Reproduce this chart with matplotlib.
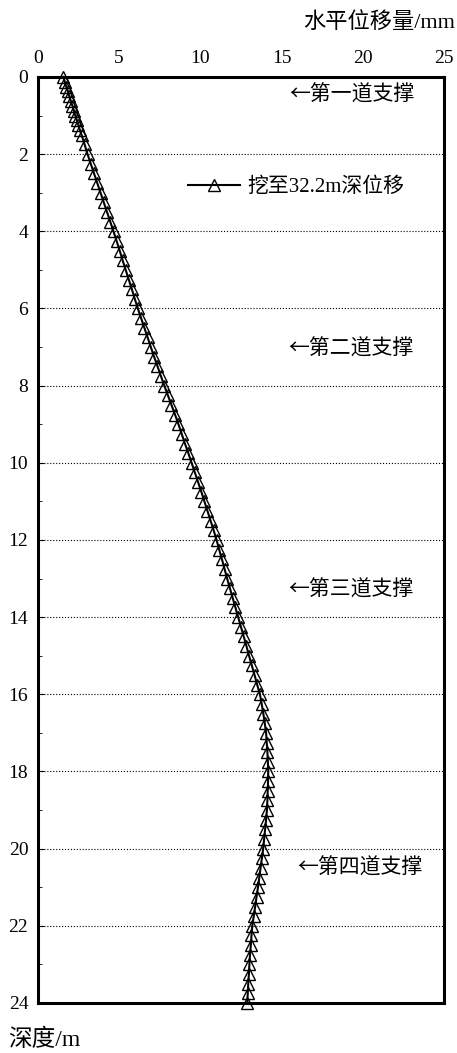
import matplotlib
matplotlib.use('Agg')
import matplotlib.pyplot as plt
from matplotlib.ticker import MultipleLocator

plt.rcParams['font.family'] = ['Liberation Serif', 'Noto Sans CJK SC', 'DejaVu Sans']

# ── Data ──────────────────────────────────────────────────────────────────────
depth = [0.0, 0.125, 0.25, 0.375, 0.5, 0.625, 0.75, 0.875, 1.0, 1.125, 1.25, 1.375, 1.5,
         1.75, 2.0, 2.25, 2.5, 2.75, 3.0, 3.25, 3.5, 3.75, 4.0, 4.25, 4.5, 4.75,
         5.0, 5.25, 5.5, 5.75, 6.0, 6.25, 6.5, 6.75, 7.0, 7.25, 7.5, 7.75,
         8.0, 8.25, 8.5, 8.75, 9.0, 9.25, 9.5, 9.75, 10.0, 10.25, 10.5, 10.75,
         11.0, 11.25, 11.5, 11.75, 12.0, 12.25, 12.5, 12.75, 13.0, 13.25, 13.5, 13.75,
         14.0, 14.25, 14.5, 14.75, 15.0, 15.25, 15.5, 15.75, 16.0, 16.25, 16.5, 16.75,
         17.0, 17.25, 17.5, 17.75, 18.0, 18.25, 18.5, 18.75, 19.0, 19.25, 19.5, 19.75,
         20.0, 20.25, 20.5, 20.75, 21.0, 21.25, 21.5, 21.75, 22.0, 22.25, 22.5, 22.75,
         23.0, 23.25, 23.5, 23.75, 24.0]
disp = [1.56, 1.65, 1.74, 1.84, 1.93, 2.02, 2.12, 2.21, 2.30, 2.39, 2.49, 2.58, 2.68,
        2.87, 3.05, 3.25, 3.45, 3.65, 3.85, 4.05, 4.25, 4.45, 4.65, 4.84, 5.03, 5.21,
        5.40, 5.59, 5.78, 5.96, 6.15, 6.35, 6.55, 6.75, 6.95, 7.15, 7.36, 7.57,
        7.78, 8.00, 8.22, 8.44, 8.65, 8.85, 9.05, 9.26, 9.46, 9.66, 9.86, 10.06,
        10.25, 10.44, 10.63, 10.82, 11.00, 11.16, 11.33, 11.49, 11.65, 11.82, 11.99, 12.16,
        12.33, 12.50, 12.67, 12.84, 13.00, 13.17, 13.34, 13.50, 13.67, 13.78, 13.88, 13.97,
        14.05, 14.09, 14.13, 14.16, 14.18, 14.17, 14.15, 14.13, 14.10, 14.05, 13.99, 13.93,
        13.87, 13.79, 13.71, 13.63, 13.55, 13.46, 13.38, 13.29, 13.20, 13.15, 13.11, 13.06,
        13.02, 12.99, 12.95, 12.92, 12.89]

support_labels = ['←第一道支撑', '←第二道支撑', '←第三道支撑', '←第四道支撑']
support_x = [15.5, 15.4, 15.4, 16.0]
support_depth = [0.47, 7.05, 13.3, 20.5]

series_label = '挖至32.2m深位移'

# ── Plot ──────────────────────────────────────────────────────────────────────
fig = plt.figure(figsize=(4.57, 10.53), dpi=100)
ax = fig.add_axes([0.0832, 0.0475, 0.888, 0.8794])

ax.plot(disp, depth, '-', color='black', linewidth=1.5, marker='^',
        markersize=9, markerfacecolor='none', markeredgecolor='black',
        markeredgewidth=1.0, label=series_label, clip_on=False, zorder=3)

ax.set_xlim(0, 25)
ax.set_ylim(24, 0)
ax.xaxis.tick_top()
ax.set_xticks([0, 5, 10, 15, 20, 25])
ax.yaxis.set_major_locator(MultipleLocator(2))
ax.yaxis.set_minor_locator(MultipleLocator(1))
ax.tick_params(axis='x', length=0, pad=7, labelsize=14)
ax.tick_params(axis='y', which='major', direction='in', length=4, pad=7, labelsize=14)
ax.tick_params(axis='y', which='minor', direction='in', length=3)

for s in ax.spines.values():
    s.set_linewidth(2.2)

ax.grid(True, axis='y', which='major', linestyle=':', color='black', linewidth=0.8)

for lab, x, d in zip(support_labels, support_x, support_depth):
    ax.text(x, d, lab, fontsize=15, va='center', ha='left',
            family=['Noto Sans CJK SC', 'DejaVu Sans'])

ax.legend(loc='center left', bbox_to_anchor=(0.369, 0.881), frameon=False,
          fontsize=15, handlelength=2.5, handletextpad=0.35,
          borderpad=0, borderaxespad=0)

fig.text(0.996, 0.979, '水平位移量/mm', fontsize=16, ha='right', va='center')
fig.text(0.017, 0.0123, '深度/m', fontsize=17, ha='left', va='center')

fig.savefig('out.png', dpi=100)
